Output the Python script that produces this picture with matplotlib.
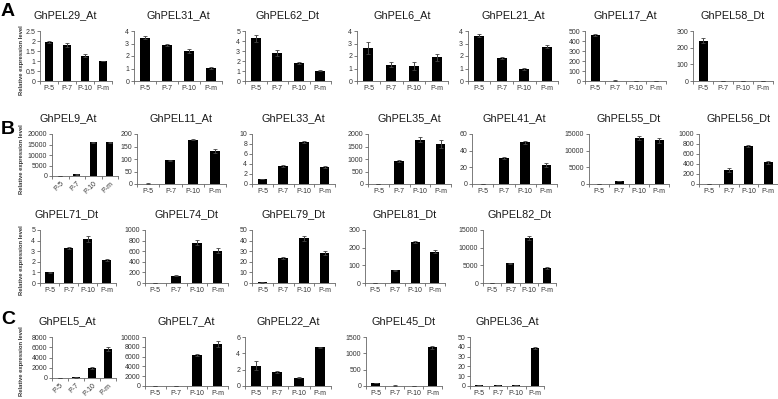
"""
relative expression of GhPEL genes across fibre stages (panels A, B, C)
"""
import matplotlib
matplotlib.use("Agg")
import matplotlib.pyplot as plt
import numpy as np

plt.rcParams['font.family'] = ['Liberation Sans', 'DejaVu Sans']

stages = ["P-5", "P-7", "P-10", "P-m"]

# row A
names_a = ["GhPEL29_At", "GhPEL31_At", "GhPEL62_Dt", "GhPEL6_At", "GhPEL21_At", "GhPEL17_At", "GhPEL58_Dt"]
vals_a = [[1.97, 1.78, 1.27, 1.0], [3.45, 2.92, 2.38, 1.05], [4.3, 2.85, 1.8, 1.05],
          [2.65, 1.3, 1.2, 1.9], [3.62, 1.85, 1.0, 2.75], [460, 5, 3, 3], [240, 2, 1, 1]]
errs_a = [[0.05, 0.1, 0.08, 0.02], [0.12, 0.08, 0.15, 0.05], [0.35, 0.3, 0.12, 0.08],
          [0.45, 0.2, 0.3, 0.3], [0.12, 0.05, 0.08, 0.1], [12, 1, 1, 1], [15, 0.5, 0.5, 0.5]]
ymax_a = [2.5, 4, 5, 4, 4, 500, 300]
ystep_a = [0.5, 1, 1, 1, 1, 100, 100]

# row B, first line
names_b1 = ["GhPEL9_At", "GhPEL11_At", "GhPEL33_At", "GhPEL35_At", "GhPEL41_At", "GhPEL55_Dt", "GhPEL56_Dt"]
vals_b1 = [[100, 800, 16000, 16000], [2, 95, 177, 132], [1.0, 3.6, 8.5, 3.4], [15, 920, 1780, 1610],
           [0.5, 31, 50, 23], [30, 900, 13700, 13100], [5, 285, 760, 435]]
errs_b1 = [[50, 100, 400, 400], [0.5, 3, 2, 7], [0.05, 0.15, 0.2, 0.2], [5, 40, 110, 160],
           [0.1, 1.2, 2, 2], [10, 50, 600, 800], [2, 35, 20, 25]]
ymax_b1 = [20000, 200, 10, 2000, 60, 15000, 1000]
ystep_b1 = [5000, 50, 2, 500, 20, 5000, 200]

# row B, second line
names_b2 = ["GhPEL71_Dt", "GhPEL74_Dt", "GhPEL79_Dt", "GhPEL81_Dt", "GhPEL82_Dt"]
vals_b2 = [[1.0, 3.3, 4.15, 2.2], [5, 140, 760, 610], [0.5, 23.5, 42, 28.5], [1, 72, 232, 178],
           [50, 5600, 12700, 4200]]
errs_b2 = [[0.05, 0.1, 0.3, 0.1], [2, 15, 50, 50], [0.2, 1, 2.5, 2], [0.5, 4, 8, 7], [20, 200, 500, 200]]
ymax_b2 = [5, 1000, 50, 300, 15000]
ystep_b2 = [1, 200, 10, 100, 5000]

# row C
names_c = ["GhPEL5_At", "GhPEL7_At", "GhPEL22_At", "GhPEL45_Dt", "GhPEL36_At"]
vals_c = [[50, 100, 1900, 5700], [30, 50, 6300, 8500], [2.5, 1.7, 1.0, 4.75], [95, 15, 5, 1180],
          [1, 0.8, 1, 38.5]]
errs_c = [[20, 30, 200, 400], [10, 10, 250, 600], [0.55, 0.1, 0.05, 0.08], [10, 5, 2, 50],
          [0.3, 0.2, 0.3, 0.8]]
ymax_c = [8000, 10000, 6, 1500, 50]
ystep_c = [2000, 2000, 2, 500, 10]

W, H = 778, 399
fig = plt.figure(figsize=(W / 100, H / 100), dpi=100)
fig.patch.set_facecolor("white")

TXT = "#333333"
AX = "#666666"


def panel(left, width, top, bottom, name, vals, errs, ymax, ystep, rotate=False, ylabel=False):
    ax = fig.add_axes([left / W, 1 - bottom / H, width / W, (bottom - top) / H])
    x = np.arange(len(stages))
    ax.bar(x, vals, width=0.45, color="black", zorder=2)
    ax.errorbar(x, vals, yerr=errs, fmt="none", ecolor="#444444", elinewidth=0.7,
                capsize=1.6, capthick=0.6, zorder=3)
    ax.set_xlim(-0.5, len(stages) - 0.5)
    ax.set_ylim(0, ymax)
    yt = np.arange(0, ymax + ystep * 0.5, ystep)
    ax.set_yticks(yt)
    ax.set_yticklabels([("%g" % v) for v in yt])
    # category boundaries get the tick marks, labels sit in the middle
    ax.set_xticks(np.arange(-0.5, len(stages), 1.0))
    ax.set_xticklabels([])
    ax.set_xticks(x, minor=True)
    if rotate:
        ax.set_xticklabels(stages, minor=True, rotation=45, ha="right", rotation_mode="anchor")
    else:
        ax.set_xticklabels(stages, minor=True)
    ax.tick_params(axis="x", which="major", length=2.5, width=0.6, color=AX)
    ax.tick_params(axis="x", which="minor", length=0, pad=3, labelsize=5, labelcolor=TXT)
    ax.tick_params(axis="y", length=2.5, width=0.6, color=AX, pad=1, labelsize=5, labelcolor=TXT)
    for s in ("top", "right"):
        ax.spines[s].set_visible(False)
    for s in ("left", "bottom"):
        ax.spines[s].set_color(AX)
        ax.spines[s].set_linewidth(0.6)
    ax.set_facecolor("none")
    # first chart of a row carries the y label, its title sits over the whole block
    cx = (18 + left + width) / 2 if ylabel else left + width / 2
    fig.text(cx / W, 1 - (top - 16) / H, name, ha="center", va="center",
             fontsize=7.8, color="#1a1a1a")
    if ylabel:
        fig.text(22 / W, 1 - ((top + bottom) / 2 + 4) / H, "Relative expression level",
                 rotation=90, ha="center", va="center", fontsize=4.2, fontweight="bold", color=TXT)
    return ax


# layout in pixels: (left, width) for each panel, (top, bottom) per row
pos_a = [(40, 72), (134, 88), (245, 86), (357, 91), (468, 90), (585, 81), (693, 80)]
pos_b1 = [(52, 66), (137, 89), (252, 83), (368, 83), (472, 85), (589, 80), (699, 79)]
pos_b2 = [(40, 76), (145, 83), (252, 83), (365, 80), (483, 73)]
pos_c = [(52, 64), (145, 83), (245, 86), (366, 76), (470, 74)]

rows = [
    (pos_a, names_a, vals_a, errs_a, ymax_a, ystep_a, 31, 81),
    (pos_b1, names_b1, vals_b1, errs_b1, ymax_b1, ystep_b1, 134, 184),
    (pos_b2, names_b2, vals_b2, errs_b2, ymax_b2, ystep_b2, 230, 283),
    (pos_c, names_c, vals_c, errs_c, ymax_c, ystep_c, 337, 386),
]

for r, (pos, names, vals, errs, ymaxs, ysteps, top, bottom) in enumerate(rows):
    for i, (left, width) in enumerate(pos):
        rot = (r == 1 and i == 0) or (r == 3 and i == 0)
        bot = bottom - 8 if rot else bottom
        panel(left, width, top, bot, names[i], vals[i], errs[i], ymaxs[i], ysteps[i],
              rotate=rot, ylabel=(i == 0))

for letter, (lx, ly) in {"A": (8, 12), "B": (8, 130), "C": (8, 320)}.items():
    fig.text(lx / W, 1 - ly / H, letter, fontsize=14, fontweight="bold", ha="center", va="center")

fig.savefig("out.png", dpi=100, facecolor="white")
